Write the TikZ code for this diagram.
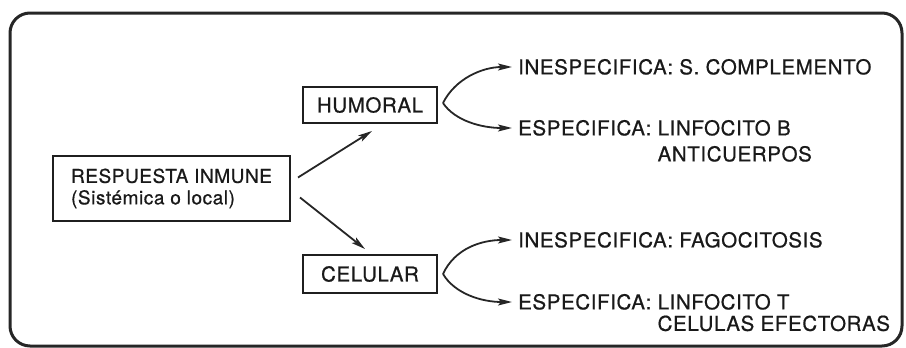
\documentclass[tikz,border=0pt]{standalone}
\usepackage{fontspec}
\setmainfont{TeX Gyre Heros}[LetterSpace=3.0,FakeBold=0.7]
\usetikzlibrary{arrows.meta,calc}
\begin{document}
\begin{tikzpicture}[x=1pt,y=-1pt,
  ink/.style={draw=black!88, line width=2pt},
  box/.style={ink, fill=white, inner sep=0pt, align=left,
    font=\fontsize{20.5}{21}\selectfont, text=black!90},
  lbl/.style={anchor=west, inner xsep=6pt, inner ysep=0pt,
    text height=14.7pt, text depth=0pt,
    font=\fontsize{20.5}{26}\selectfont, text=black!90},
  feed/.style={draw=black!85, line width=1.8pt,
    -{Stealth[length=14pt,width=7pt,inset=3pt]}},
  frame/.style={draw=black!85, line width=3pt, rounded corners=20pt}]
\useasboundingbox (0,0) rectangle (906,348);

% outer frame
\draw[frame] (10,13) rectangle (902,346);

% main boxes
\node[box, minimum width=237pt, minimum height=65pt,
  font=\fontsize{19}{21.5}\selectfont] (resp) at (171.5,188.5)
  {RESPUESTA INMUNE\\(Sistémica o local)};
\node[box, minimum width=134pt, minimum height=36pt] (hum) at (370,105) {HUMORAL};
\node[box, minimum width=134pt, minimum height=38pt] (cel) at (370,274) {CELULAR};

% branch labels
\node[lbl] (hi) at (512,67) {INESPECIFICA: S. COMPLEMENTO};
\node[lbl] (he) at (512,128)
  {ESPECIFICA: \begin{tabular}[t]{@{}l@{}}LINFOCITO B\\ANTICUERPOS\end{tabular}};
\node[lbl] (ci) at (512,240) {INESPECIFICA: FAGOCITOSIS};
\node[lbl] (ce) at (512,302)
  {ESPECIFICA: \begin{tabular}[t]{@{}l@{}}LINFOCITO T\\[-4.5pt]CELULAS EFECTORAS\end{tabular}};

% arrows from the main box
\draw[feed] ($(resp.east)+(7,-11)$) -- ($(hum.south)+(2,7)$);
\draw[feed] ($(resp.east)+(9,9)$) -- ($(cel.north)+(-5,-5)$);

% forks
\coordinate (hf) at ($(hum.east)+(5,-2)$);
\coordinate (cf) at ($(cel.east)+(5,0)$);
\draw[feed] (hf) .. controls +(12,-24) and +(-30,0) .. (hi.west);
\draw[feed] (hf) .. controls +(12,18) and +(-30,0) .. (he.west);
\draw[feed] (cf) .. controls +(12,-26) and +(-30,0) .. (ci.west);
\draw[feed] (cf) .. controls +(12,20) and +(-30,0) .. (ce.west);
\end{tikzpicture}
\end{document}
